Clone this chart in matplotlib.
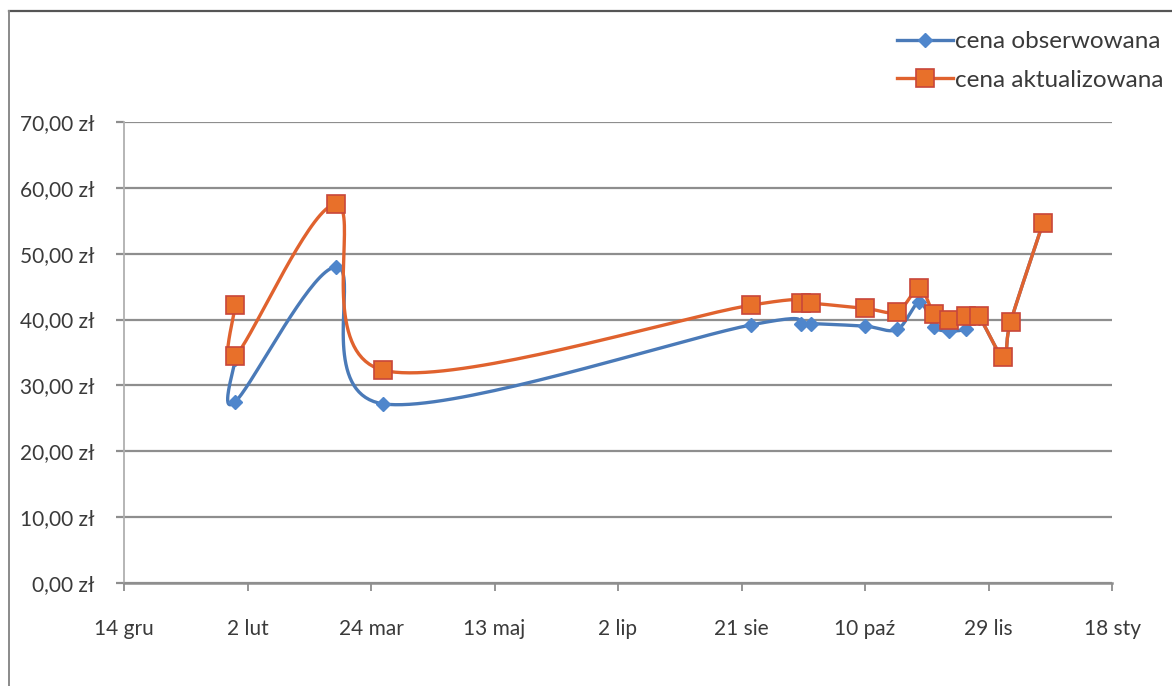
import numpy as np
import matplotlib
matplotlib.use("Agg")
import matplotlib.pyplot as plt
import matplotlib.dates as mdates
from matplotlib.ticker import FixedLocator, FuncFormatter
from matplotlib.lines import Line2D

# --- data -------------------------------------------------------------
dates = ['2009-01-28', '2009-01-28', '2009-03-10', '2009-03-29', '2009-08-25',
         '2009-09-14', '2009-09-18', '2009-10-10', '2009-10-23', '2009-11-01',
         '2009-11-07', '2009-11-13', '2009-11-20', '2009-11-25', '2009-12-05',
         '2009-12-08', '2009-12-21']
cena_obserwowana = [34.0, 27.5, 48.0, 27.2, 39.2, 39.4, 39.4, 39.0, 38.5, 42.6,
                    38.9, 38.3, 38.6, 40.3, 34.3, 39.7, 54.6]
cena_aktualizowana = [42.2, 34.4, 57.5, 32.3, 42.2, 42.5, 42.5, 41.7, 41.2, 44.8,
                      40.8, 40.0, 40.5, 40.5, 34.3, 39.7, 54.6]
series_names = ['cena obserwowana', 'cena aktualizowana']

tick_dates = ['2008-12-14', '2009-02-02', '2009-03-24', '2009-05-13', '2009-07-02',
              '2009-08-21', '2009-10-10', '2009-11-29', '2010-01-18']
tick_labels = ['14 gru', '2 lut', '24 mar', '13 maj', '2 lip', '21 sie',
               '10 paź', '29 lis', '18 sty']
y_ticks = [0, 10, 20, 30, 40, 50, 60, 70]

# --- figure -----------------------------------------------------------
W, H = 1172, 686
fig = plt.figure(figsize=(W / 100, H / 100), dpi=100)
fig.patch.set_facecolor('white')
plt.rcParams['font.family'] = ['Lato', 'DejaVu Sans']

ax = fig.add_axes([124 / W, 1 - 583 / H, (1112 - 124) / W, (583 - 122) / H])
x = mdates.datestr2num(dates)
xt = mdates.datestr2num(tick_dates)
ax.set_xlim(xt[0], xt[-1])
ax.set_ylim(0, 70)

grid_col = '#8e8e8e'
ax.set_yticks(y_ticks)
ax.yaxis.set_major_formatter(FuncFormatter(lambda v, p: f"{v:.2f}".replace('.', ',') + ' zł'))
ax.xaxis.set_major_locator(FixedLocator(xt))
ax.set_xticklabels(tick_labels)
ax.grid(axis='y', color=grid_col, lw=1.6, zorder=0)
ax.tick_params(axis='y', length=6, width=1.6, color=grid_col, pad=15,
               labelsize=15, labelcolor='#3a3a3a')
ax.tick_params(axis='x', length=6, width=1.3, color=grid_col, pad=20,
               labelsize=15, labelcolor='#3a3a3a')
for s in ('top', 'right'):
    ax.spines[s].set_visible(False)
ax.spines['left'].set_color('#b0b0b0')
ax.spines['left'].set_linewidth(1.3)
ax.spines['bottom'].set_color(grid_col)
ax.spines['bottom'].set_linewidth(1.8)


def smooth_curve(xs, ys, n=40):
    """Bezier smoothing (Catmull-Rom style) computed in screen space."""
    pts = ax.transData.transform(np.column_stack([xs, ys]))
    out = [pts[0]]
    m = len(pts)
    for i in range(m - 1):
        p0 = pts[i - 1] if i > 0 else pts[i]
        p1, p2 = pts[i], pts[i + 1]
        p3 = pts[i + 2] if i + 2 < m else pts[i + 1]
        c1 = p1 + (p2 - p0) / 6.0
        c2 = p2 - (p3 - p1) / 6.0
        t = np.linspace(0, 1, n)[1:, None]
        seg = ((1 - t) ** 3) * p1 + 3 * ((1 - t) ** 2) * t * c1 \
            + 3 * (1 - t) * t ** 2 * c2 + t ** 3 * p2
        out.extend(seg)
    back = ax.transData.inverted().transform(np.array(out))
    return back[:, 0], back[:, 1]


blue_line, blue_face = '#4a7ab8', '#4f86cc'
org_line, org_face, org_edge = '#e0622e', '#e8702a', '#c8463a'

sx, sy = smooth_curve(x, cena_obserwowana)
ax.plot(sx, sy, color=blue_line, lw=2.4, zorder=3, solid_capstyle='round')
ax.plot(x, cena_obserwowana, ls='none', marker='D', ms=7.5, mfc=blue_face,
        mec=blue_face, zorder=4)

sx, sy = smooth_curve(x, cena_aktualizowana)
ax.plot(sx, sy, color=org_line, lw=2.4, zorder=5, solid_capstyle='round')
ax.plot(x, cena_aktualizowana, ls='none', marker='s', ms=13, mfc=org_face,
        mec=org_edge, mew=1.2, zorder=6)

handles = [
    Line2D([], [], color=blue_line, lw=2.4, marker='D', ms=7.5, mfc=blue_face, mec=blue_face),
    Line2D([], [], color=org_line, lw=2.4, marker='s', ms=13, mfc=org_face, mec=org_edge, mew=1.2),
]
fig.legend(handles, series_names, loc='upper left',
           bbox_to_anchor=(897 / W, 1 - 31 / H), frameon=False, fontsize=17.5,
           handlelength=2.3, handletextpad=0.1, labelspacing=0.72,
           borderpad=0, borderaxespad=0, labelcolor='#3a3a3a')

# chart frame
fig.add_artist(Line2D([9 / W, 1.0], [1 - 11 / H, 1 - 11 / H], transform=fig.transFigure,
                      color='#555555', lw=1.6))
fig.add_artist(Line2D([9 / W, 9 / W], [0, 1 - 11 / H], transform=fig.transFigure,
                      color='#8a8a8a', lw=1.4))

fig.savefig('out.png', dpi=100, facecolor='white')
